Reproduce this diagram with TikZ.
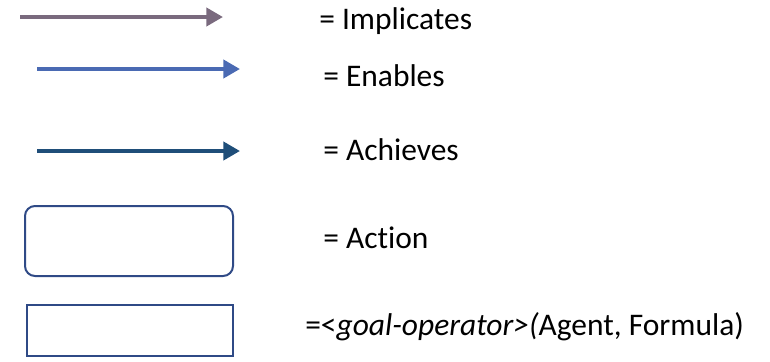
\documentclass[tikz,border=0pt]{standalone}
\usepackage{fontspec}
\setmainfont{Carlito}[Ligatures={NoCommon}]
\usetikzlibrary{arrows.meta}
\definecolor{implc}{RGB}{122,106,126}
\definecolor{enabc}{RGB}{74,106,179}
\definecolor{achic}{RGB}{31,78,121}
\definecolor{boxc}{RGB}{47,74,134}
\begin{document}
\begin{tikzpicture}[x=0.75pt,y=-0.75pt,
  legarrow/.style={line width=3pt,-{Triangle[length=12.5pt,width=13.5pt]}},
  lbl/.style={anchor=base west,inner sep=0pt,font=\fontsize{23.6}{28}\selectfont},
  actbox/.style={draw=boxc,line width=1.5pt,rounded corners=7.5pt},
  goalbox/.style={draw=boxc,line width=1.5pt}]
\useasboundingbox (0,0) rectangle (770,361);
\coordinate (a1s) at (20,17); \coordinate (a1e) at (223,17);
\coordinate (a2s) at (37,69); \coordinate (a2e) at (240,69);
\coordinate (a3s) at (37,151); \coordinate (a3e) at (240,151);
\draw[legarrow,implc] (a1s) -- (a1e);
\draw[legarrow,enabc] (a2s) -- (a2e);
\draw[legarrow,achic] (a3s) -- (a3e);
\node[lbl] (t1) at (319,29) {= Implicates};
\node[lbl] (t2) at (323,86) {= Enables};
\node[lbl] (t3) at (323,160) {= Achieves};
\node[lbl] (t4) at (323,248) {= Action};
\node[lbl] (t5) at (305,335) {=<\textit{goal-operator>(}Agent, Formula)};
\draw[actbox] (25,206) rectangle (233,276);
\draw[goalbox] (27,305) rectangle (233,356);
\end{tikzpicture}
\end{document}
